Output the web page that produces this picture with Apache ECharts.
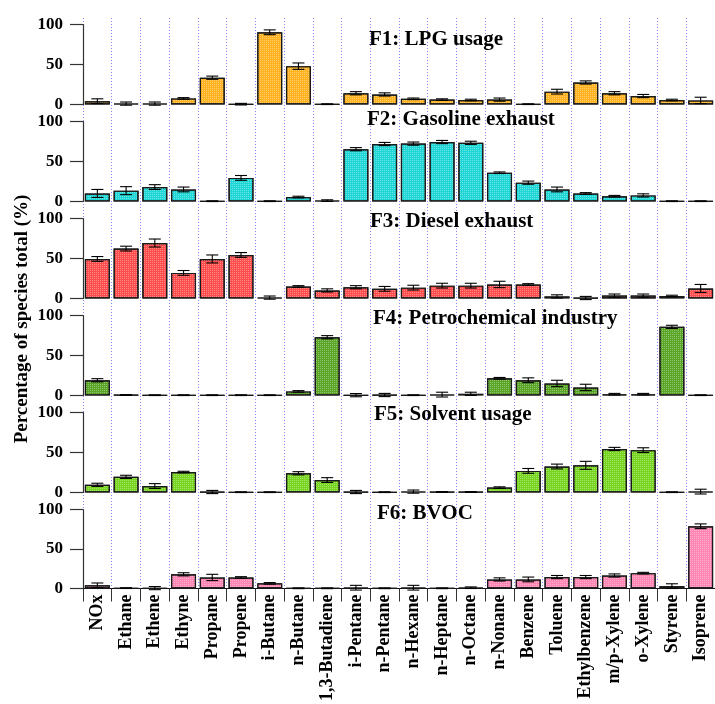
<!DOCTYPE html>
<html>
<head>
<meta charset="utf-8">
<script src="https://cdn.jsdelivr.net/npm/echarts@6/dist/echarts.min.js"></script>
<style>
  html, body { margin: 0; padding: 0; background: #fff; }
  #chart { width: 715px; height: 704px; }
</style>
</head>
<body>
<div id="chart"></div>
<script>
// Species measured in the source-profile analysis
const categories = ['NOx', 'Ethane', 'Ethene', 'Ethyne', 'Propane', 'Propene', 'i-Butane', 'n-Butane',
  '1,3-Butadiene', 'i-Pentane', 'n-Pentane', 'n-Hexane', 'n-Heptane', 'n-Octane', 'n-Nonane',
  'Benzene', 'Toluene', 'Ethylbenzene', 'm/p-Xylene', 'o-Xylene', 'Styrene', 'Isoprene'];

const factorNames = ['F1: LPG usage', 'F2: Gasoline exhaust', 'F3: Diesel exhaust',
  'F4: Petrochemical industry', 'F5: Solvent usage', 'F6: BVOC'];

// Percentage of species total (%) for each factor, with its uncertainty
const f1Values = [4, 1, 1, 7.5, 33.5, 0.3, 90.5, 48, 0.3, 14, 12.5, 7, 6, 5.5, 6, 0.3, 16, 27.5, 14, 10.5, 5.5, 5];
const f1Errors = [3, 2, 2, 1, 2, 1, 3, 4, 0.5, 2, 2, 1, 1, 1, 2, 0.5, 3, 2, 2, 2, 1, 4];
const f2Values = [10, 13.5, 18, 15, 0.3, 29.5, 0.3, 5.5, 1, 65.5, 72, 72.5, 74.5, 73.5, 36, 23.5, 15, 10, 6.5, 7.5, 0.3, 0.3];
const f2Errors = [5, 5, 3, 3, 0.5, 3, 0.5, 1, 1, 2, 2, 2, 2, 2, 1, 2, 3, 1, 1, 2, 0.5, 0.5];
const f3Values = [49.5, 62.5, 69.5, 32, 49.5, 54.5, 1, 15, 10, 14, 12, 13.5, 16, 16, 17.5, 17.5, 2.5, 0.5, 3.5, 3.5, 3, 12.5];
const f3Errors = [3, 3, 5, 3, 5, 3, 2, 1, 2, 2, 3, 3, 3, 3, 4, 1, 2, 2, 2, 2, 1, 5];
const f4Values = [19, 0.5, 0.3, 0.3, 0.3, 0.3, 0.3, 5, 73, 0.3, 0.5, 0.3, 1, 2, 21.5, 19, 15, 10, 1.5, 1.5, 86, 0.3];
const f4Errors = [2, 0.5, 0.5, 0.5, 0.5, 0.5, 0.5, 1, 2, 2, 2, 0.5, 3, 2, 1, 3, 4, 4, 1, 1, 2, 0.5];
const f5Values = [9.5, 19.5, 8, 25.5, 0.5, 0.3, 0.3, 24, 15.5, 0.5, 0.3, 1, 0.5, 0.5, 6, 27, 32.5, 34, 54.5, 53, 0.3, 1];
const f5Errors = [2, 2, 3, 1, 2, 0.5, 0.5, 2, 3, 2, 0.5, 2, 0.5, 0.5, 1, 3, 3, 5, 2, 3, 0.5, 3];
const f6Values = [4, 0.5, 0.5, 18, 14, 14, 6.5, 0.3, 0.3, 1, 0.3, 1, 0.3, 1, 11.5, 11.5, 14.5, 14.5, 16.5, 19.5, 3, 79];
const f6Errors = [3, 0.5, 2, 2, 4, 1, 1, 0.5, 0.5, 3, 0.5, 3, 0.5, 1, 2, 3, 2, 2, 2, 1, 3, 3];

const yTicks = [0, 50, 100];

const panelValues = [f1Values, f2Values, f3Values, f4Values, f5Values, f6Values];
const panelErrors = [f1Errors, f2Errors, f3Errors, f4Errors, f5Errors, f6Errors];
const panelColors = ['#FFB21F', '#1FD6D6', '#FF4D4D', '#5AA526', '#77D41F', '#FF85B2'];

const SERIF = '"Liberation Serif", "DejaVu Serif", serif';
const panelTop0 = 24.7;   // top of the first panel (value 100)
const panelStep = 97;     // vertical distance between panels
const panelHeight = 79.7; // height of the 0-100 range
const gridLeft = 83;
const gridRight = -3;

const chart = echarts.init(document.getElementById('chart'), null, { renderer: 'canvas' });

const grids = [];
const xAxes = [];
const yAxes = [];
const series = [];
const titles = [];

const titleTops = [29, 109, 211, 308, 404, 503];
const titleLefts = [369, 367, 370, 373, 374, 377];

for (let i = 0; i < 6; i++) {
  const isLast = i === 5;
  grids.push({
    left: gridLeft,
    right: gridRight,
    top: panelTop0 + panelStep * i,
    height: panelHeight
  });
  xAxes.push({
    type: 'category',
    gridIndex: i,
    data: categories,
    boundaryGap: true,
    axisLine: { show: isLast, lineStyle: { color: '#111', width: 1.2 } },
    axisTick: { show: isLast, interval: 0, length: 13, lineStyle: { color: '#333', width: 1 } },
    axisLabel: {
      show: isLast,
      interval: 0,
      rotate: 90,
      margin: 6,
      fontFamily: SERIF,
      fontWeight: 'bold',
      fontSize: 18,
      color: '#000'
    },
    splitLine: { show: false }
  });
  yAxes.push({
    type: 'value',
    gridIndex: i,
    min: yTicks[0],
    max: yTicks[yTicks.length - 1],
    interval: yTicks[1] - yTicks[0],
    axisLine: { show: true, lineStyle: { color: '#333', width: 1.2 } },
    axisTick: { show: true, inside: false, length: 13, lineStyle: { color: '#333', width: 1.2 } },
    axisLabel: {
      margin: 20,
      fontFamily: SERIF,
      fontWeight: 'bold',
      fontSize: 17,
      color: '#000'
    },
    splitLine: { show: false }
  });

  const color = panelColors[i];
  series.push({
    type: 'bar',
    name: factorNames[i],
    xAxisIndex: i,
    yAxisIndex: i,
    data: panelValues[i],
    barCategoryGap: '13%',
    z: 3,
    itemStyle: {
      color: color,
      borderColor: '#1a1a1a',
      borderWidth: 1.2,
      decal: {
        symbol: 'rect',
        symbolSize: 1,
        dashArrayX: [1, 1],
        dashArrayY: [1, 1],
        color: 'rgba(255,255,255,0.35)'
      }
    },
    animation: false
  });

  // error bars: vertical whisker with caps
  const vals = panelValues[i];
  const errs = panelErrors[i];
  series.push({
    type: 'custom',
    xAxisIndex: i,
    yAxisIndex: i,
    z: 5,
    data: vals.map((v, k) => [k, v, errs[k]]),
    renderItem: function (params, api) {
      const k = api.value(0);
      const v = api.value(1);
      const e = api.value(2);
      const hi = api.coord([k, v + e]);
      const lo = api.coord([k, Math.max(v - e, -2)]);
      const cap = 6;
      const style = { stroke: '#000', lineWidth: 1.1 };
      return {
        type: 'group',
        children: [
          { type: 'line', shape: { x1: hi[0], y1: hi[1], x2: lo[0], y2: lo[1] }, style: style },
          { type: 'line', shape: { x1: hi[0] - cap, y1: hi[1], x2: hi[0] + cap, y2: hi[1] }, style: style },
          { type: 'line', shape: { x1: lo[0] - cap, y1: lo[1], x2: lo[0] + cap, y2: lo[1] }, style: style }
        ]
      };
    },
    animation: false
  });

  titles.push({
    text: factorNames[i],
    left: titleLefts[i],
    top: titleTops[i],
    padding: 0,
    textStyle: { fontFamily: SERIF, fontWeight: 'bold', fontSize: 21, color: '#000' }
  });
}

// Full-height grid carrying the dotted category separators
grids.push({ left: gridLeft, right: gridRight, top: 18, bottom: 704 - 590 });
xAxes.push({
  type: 'category',
  gridIndex: 6,
  data: categories,
  boundaryGap: true,
  axisLine: { show: false },
  axisTick: { show: false, interval: 0 },
  axisLabel: { show: false, interval: 0 },
  splitLine: { show: true, interval: 0, lineStyle: { color: 'rgba(80,80,255,0.7)', type: [1, 2], width: 1 } }
});
yAxes.push({
  type: 'value',
  gridIndex: 6,
  show: false,
  splitLine: { show: false }
});

chart.setOption({
  backgroundColor: '#fff',
  animation: false,
  title: titles,
  grid: grids,
  xAxis: xAxes,
  yAxis: yAxes,
  series: series,
  graphic: [{
    type: 'text',
    x: 22,
    y: 319,
    rotation: Math.PI / 2,
    style: {
      text: 'Percentage of species total (%)',
      fontFamily: SERIF,
      fontWeight: 'bold',
      fontSize: 19,
      fill: '#000',
      align: 'center',
      verticalAlign: 'middle'
    }
  }]
});
</script>
</body>
</html>
